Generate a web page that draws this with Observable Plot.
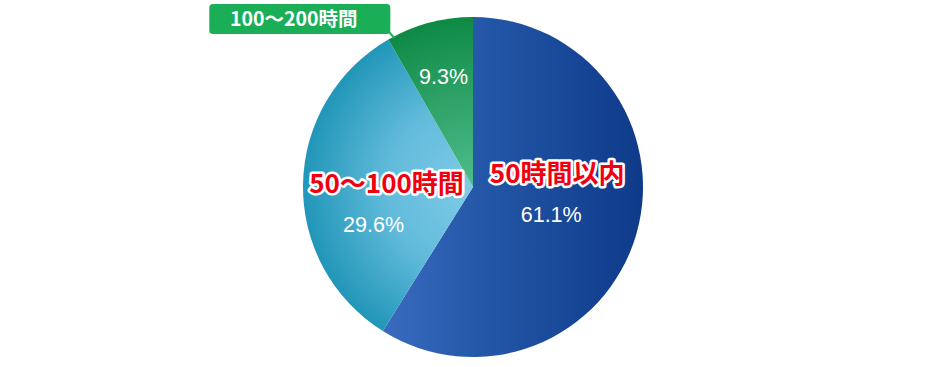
<!DOCTYPE html>
<html><head><meta charset="utf-8">
<script src="https://cdn.jsdelivr.net/npm/d3@7"></script>
<script src="https://cdn.jsdelivr.net/npm/@observablehq/plot@0.6"></script>
<style>html,body{margin:0;padding:0;background:#fff}#chart svg{display:block}</style>
</head><body><div id="chart"></div>
<script>
// ---- data ----
const categories = ["50時間以内", "50～100時間", "100～200時間"];
const percentLabels = ["61.1%", "29.6%", "9.3%"];
const sliceShares = [58.9, 32.8, 8.3]; // slice sizes as drawn in the picture

const rows = categories.map((c, i) => ({category: c, label: percentLabels[i], share: sliceShares[i]}));
const arcs = d3.pie().sort(null).value(d => d.share)(rows);
arcs.forEach(a => { a.mid = (a.startAngle + a.endAngle) / 2; });
const polar = (angle, r) => ({x: r * Math.sin(angle), y: r * Math.cos(angle)});

const JP = "'Noto Sans CJK JP', 'Noto Sans', sans-serif";
const NUM = "'Liberation Sans', Arial, sans-serif";

function pieMark(index, scales) {
  const cx = scales.x(0), cy = scales.y(0), R = scales.x(1) - scales.x(0);
  const g = d3.create("svg:g");
  const defs = g.append("defs");
  // gradient coordinates are in the (translated) pie group's space: centre = (0,0)
  const lin = defs.append("linearGradient").attr("id", "pg0").attr("gradientUnits", "userSpaceOnUse")
    .attr("x1", scales.x(-0.55) - cx).attr("y1", 0).attr("x2", scales.x(1) - cx).attr("y2", 0);
  lin.append("stop").attr("offset", 0).attr("stop-color", "#3a6bc0");
  lin.append("stop").attr("offset", 0.35).attr("stop-color", "#2659aa");
  lin.append("stop").attr("offset", 1).attr("stop-color", "#0e3a89");
  const rad = (id, stops) => {
    const r = defs.append("radialGradient").attr("id", id).attr("gradientUnits", "userSpaceOnUse")
      .attr("cx", 0).attr("cy", 0).attr("r", R);
    stops.forEach(([o, c]) => r.append("stop").attr("offset", o).attr("stop-color", c));
  };
  rad("pg1", [[0, "#7fcbe8"], [0.5, "#62bbdb"], [1, "#2196b8"]]);
  rad("pg2", [[0, "#4fbd8d"], [0.6, "#2a9f63"], [1, "#0e8a45"]]);
  const arc = d3.arc().innerRadius(0).outerRadius(R);
  g.append("g").attr("transform", `translate(${cx},${cy})`)
    .selectAll("path").data(arcs).join("path")
    .attr("d", arc).attr("fill", (d, i) => `url(#pg${i})`);
  // callout box for the small slice
  const a = arcs[2];
  const E = polar(a.startAngle, 1);
  const ex = scales.x(E.x), ey = scales.y(E.y);
  g.append("line").attr("x1", ex + 0.5).attr("y1", ey - 8).attr("x2", ex + 6).attr("y2", ey - 1.5)
    .attr("stroke", "#1aae57").attr("stroke-width", 2);
  g.append("rect").attr("x", ex - 179).attr("y", ey - 35.6).attr("width", 181).attr("height", 30)
    .attr("rx", 3.5).attr("fill", "#1aae57");
  return g.node();
}

const at = (i, r) => ({x: () => polar(arcs[i].mid, r).x, y: () => polar(arcs[i].mid, r).y});
const valueText = (i, dx, dy) => Plot.text([rows[i]], {
  ...at(i, 0.5), text: "label", dx, dy, fill: "white", fontSize: 21.5, fontFamily: NUM
});
const catText = (i, dx, dy) => Plot.text([rows[i]], {
  ...at(i, 0.5), text: "category", dx, dy, fill: "#f0000f", stroke: "white", strokeWidth: 5,
  paintOrder: "stroke", fontSize: 26, fontWeight: "bold", fontFamily: JP
});

const chart = Plot.plot({
  width: 946, height: 367, margin: 0,
  x: {domain: [-1, 1], range: [303, 643], axis: null},
  y: {domain: [-1, 1], range: [357, 17], axis: null},
  marks: [
    pieMark,
    valueText(0, -4, 4),
    valueText(1, -15, 39),
    valueText(2, -8, -28),
    catText(0, 2, -36),
    catText(1, -2, -1),
    Plot.text([rows[2]], {
      x: () => polar(arcs[2].startAngle, 1).x, y: () => polar(arcs[2].startAngle, 1).y,
      text: "category", dx: -95, dy: -20, fill: "white", fontSize: 19.5, fontWeight: "bold", fontFamily: JP
    })
  ]
});
document.getElementById("chart").append(chart);
</script>
</body></html>
